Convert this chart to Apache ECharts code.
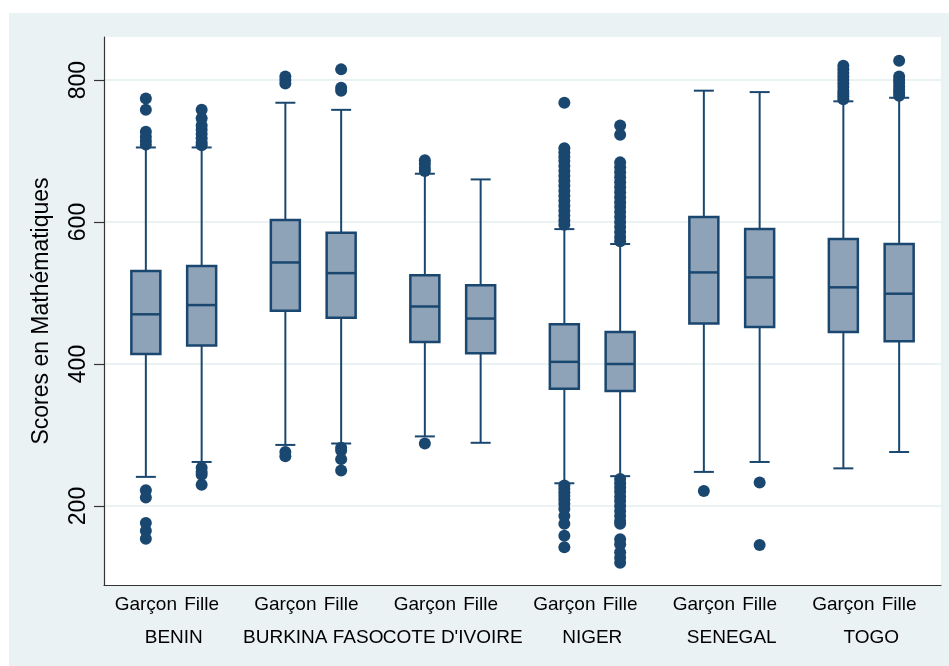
<!DOCTYPE html>
<html>
<head>
<meta charset="utf-8">
<script src="https://cdn.jsdelivr.net/npm/echarts@6/dist/echarts.min.js"></script>
<style>html,body{margin:0;padding:0;background:#fff}#c{width:949px;height:666px}</style>
</head>
<body>
<div id="c"></div>
<script>
// ---- data ----
const countries = ['BENIN', 'BURKINA FASO', 'COTE D\'IVOIRE', 'NIGER', 'SENEGAL', 'TOGO'];
const sexes = ['Garçon', 'Fille'];
// [lower whisker, Q1, median, Q3, upper whisker], order: country x sex
const boxStats = [
  [241, 414, 470, 531, 705], [262, 426, 483, 538, 705],
  [286, 475, 543, 603, 768], [288, 465, 528, 585, 758],
  [298, 431, 481, 525, 668], [289, 415, 464, 511, 660],
  [232, 365, 403, 456, 590], [242, 362, 400, 445, 569],
  [248, 457, 529, 607, 785], [262, 452, 522, 590, 783],
  [253, 445, 508, 576, 770], [276, 432, 499, 569, 775]
];
const outliers = [
  [774, 758, 727, 720, 714, 709, 222, 212, 176, 165, 154],
  [758, 746, 736, 730, 724, 718, 712, 708, 254, 248, 244, 230],
  [805, 800, 795, 276, 270],
  [815, 789, 785, 282, 278, 266, 250],
  [687, 682, 676, 672, 288],
  [],
  [768, 704, 698, 692, 686, 679, 672, 665, 658, 651, 644, 637, 630, 623, 616, 609, 602, 596,
   229, 224, 219, 214, 209, 203, 196, 186, 175, 158, 142],
  [736, 723, 684, 677, 670, 663, 656, 649, 642, 635, 628, 621, 614, 607, 600, 593, 586, 579, 573,
   238, 232, 226, 220, 213, 207, 200, 193, 186, 179, 175, 153, 146, 135, 127, 120],
  [221],
  [233, 145],
  [820, 815, 810, 805, 800, 795, 790, 785, 781, 777, 773],
  [827, 805, 800, 796, 791, 786, 782, 778]
];
const yTicks = [200, 400, 600, 800];
const yRange = [88.7, 860.6];

// ---- build slots (5 slots per country: gap, Garçon, label, Fille, gap) ----
const slotsPerCountry = 5;
const sexSlot = [1, 3];
const slots = [];
const sexLabels = [];
const countryLabels = [];
countries.forEach((c, i) => {
  for (let k = 0; k < slotsPerCountry; k++) {
    slots.push(i * slotsPerCountry + k);
    const s = sexSlot.indexOf(k);
    sexLabels.push(s >= 0 ? sexes[s] : '');
    countryLabels.push(k === 2 ? c : '');
  }
});
const boxData = [];
const outData = [];
countries.forEach((c, i) => {
  sexes.forEach((s, j) => {
    const idx = i * sexes.length + j;
    const slot = i * slotsPerCountry + sexSlot[j];
    boxData.push([slot].concat(boxStats[idx]));
    outliers[idx].forEach(v => outData.push([slot, v]));
  });
});

const navy = '#1a476f';
const boxFill = '#8fa3b8';
const bg = '#eaf2f3';
const font = '"Liberation Sans", Arial, Helvetica, sans-serif';

const chart = echarts.init(document.getElementById('c'));
chart.setOption({
  backgroundColor: '#ffffff',
  animation: false,
  graphic: [{
    type: 'rect', z: -10, silent: true,
    shape: { x: 9, y: 13, width: 940, height: 653 },
    style: { fill: bg }
  }],
  grid: {
    left: 104, right: 8, top: 37, bottom: 81,
    show: true, backgroundColor: '#ffffff', borderWidth: 0,
    outerBoundsMode: 'none'
  },
  xAxis: [{
    type: 'category', data: slots, boundaryGap: true,
    axisLine: { show: true, lineStyle: { color: '#333', width: 1.2 } },
    axisTick: { show: false },
    splitLine: { show: false },
    axisLabel: {
      interval: 0, margin: 10, fontSize: 19, color: '#000', fontFamily: font,
      formatter: (v, i) => sexLabels[i]
    }
  }, {
    type: 'category', data: slots, boundaryGap: true, position: 'bottom', offset: 33,
    axisLine: { show: false }, axisTick: { show: false }, splitLine: { show: false },
    axisLabel: {
      interval: 0, margin: 10, fontSize: 19, color: '#000', fontFamily: font,
      formatter: (v, i) => countryLabels[i]
    }
  }],
  yAxis: {
    type: 'value', min: yRange[0], max: yRange[1],
    name: 'Scores en Mathématiques', nameLocation: 'middle', nameGap: 51,
    nameTextStyle: { fontSize: 23, color: '#000', fontFamily: font },
    axisLine: { show: true, lineStyle: { color: '#333', width: 1.2 } },
    axisTick: { show: true, length: 10, customValues: yTicks, lineStyle: { color: '#333', width: 1.2 } },
    axisLabel: { customValues: yTicks, rotate: 90, margin: 14, fontSize: 23, color: '#000', fontFamily: font },
    splitLine: { show: true, lineStyle: { color: bg, width: 2 } }
  },
  series: [{
    type: 'custom',
    xAxisIndex: 0,
    encode: { x: 0, y: [1, 2, 3, 4, 5] },
    data: boxData,
    z: 2,
    renderItem: function (params, api) {
      const x = api.value(0);
      const lo = api.coord([x, api.value(1)]);
      const q1 = api.coord([x, api.value(2)]);
      const md = api.coord([x, api.value(3)]);
      const q3 = api.coord([x, api.value(4)]);
      const hi = api.coord([x, api.value(5)]);
      const cx = lo[0];
      const hw = 14.5, cw = 10;
      const ls = { stroke: navy, lineWidth: 2, fill: null };
      return {
        type: 'group',
        children: [
          { type: 'line', shape: { x1: cx, y1: hi[1], x2: cx, y2: q3[1] }, style: ls },
          { type: 'line', shape: { x1: cx, y1: q1[1], x2: cx, y2: lo[1] }, style: ls },
          { type: 'line', shape: { x1: cx - cw, y1: hi[1], x2: cx + cw, y2: hi[1] }, style: ls },
          { type: 'line', shape: { x1: cx - cw, y1: lo[1], x2: cx + cw, y2: lo[1] }, style: ls },
          { type: 'rect', shape: { x: cx - hw, y: q3[1], width: 2 * hw, height: q1[1] - q3[1] },
            style: { fill: boxFill, stroke: navy, lineWidth: 2.5 } },
          { type: 'line', shape: { x1: cx - hw, y1: md[1], x2: cx + hw, y2: md[1] }, style: { stroke: navy, lineWidth: 2.5 } }
        ]
      };
    }
  }, {
    type: 'scatter',
    xAxisIndex: 0,
    data: outData,
    symbol: 'circle',
    symbolSize: 12,
    itemStyle: { color: navy, opacity: 1 },
    z: 3
  }]
});
</script>
</body>
</html>
